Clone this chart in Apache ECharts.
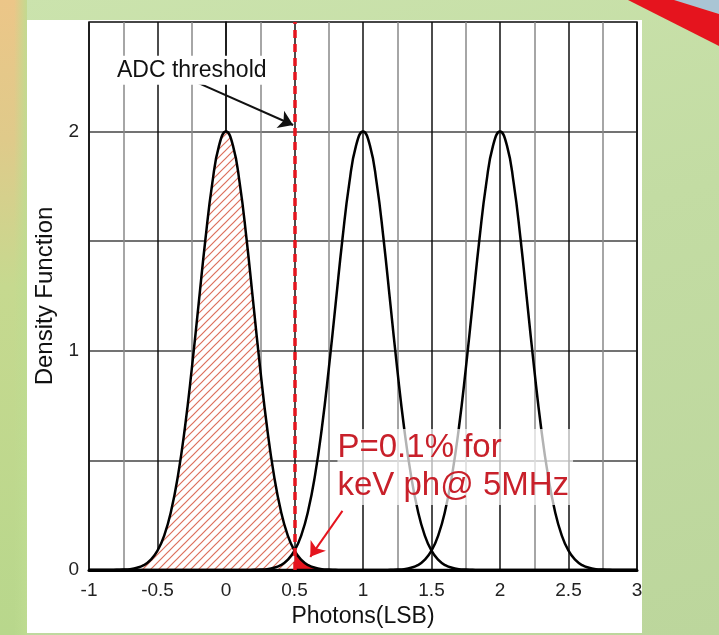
<!DOCTYPE html>
<html>
<head>
<meta charset="utf-8">
<script src="https://cdn.jsdelivr.net/npm/echarts@6/dist/echarts.min.js"></script>
<style>
html, body { margin: 0; padding: 0; width: 719px; height: 635px; overflow: hidden; }
#bg { position: absolute; left: 0; top: 0; width: 719px; height: 635px;
      background: linear-gradient(165deg, #cbe3ad 0%, #c3dca3 45%, #bcd69c 100%); }
#strip { position: absolute; left: 0; top: 0; width: 27px; height: 635px;
      background: linear-gradient(180deg, #ecc688 0%, #dfca8a 22%, #c6d98f 45%, #b8d78c 100%); }
#stripEdge { position: absolute; left: 14px; top: 0; width: 13px; height: 635px;
      background: linear-gradient(90deg, rgba(190,220,145,0) 0%, rgba(190,220,145,0.9) 100%); }
#corner { position: absolute; left: 0; top: 0; width: 719px; height: 635px; background: #a9c5d4;
      clip-path: polygon(672px 0, 719px 0, 719px 14px); }
#band { position: absolute; left: 0; top: 0; width: 719px; height: 635px; background: #e5141e;
      clip-path: polygon(628px 0, 674px 0, 719px 14px, 719px 46px); }
#card { position: absolute; left: 27px; top: 20px; width: 615px; height: 613px; background: #fff; }
#chart { position: absolute; left: 0; top: 0; width: 719px; height: 635px; }
</style>
</head>
<body>
<div id="bg"></div>
<div id="strip"></div>
<div id="stripEdge"></div>
<div id="corner"></div>
<div id="band"></div>
<div id="card"></div>
<div id="chart"></div>
<script>
// photons (LSB), read every 0.05
const photons = [
    -1, -0.95, -0.9, -0.85, -0.8, -0.75, -0.7, -0.65, -0.6, -0.55,
    -0.5, -0.45, -0.4, -0.35, -0.3, -0.25, -0.2, -0.15, -0.1, -0.05,
    0, 0.05, 0.1, 0.15, 0.2, 0.25, 0.3, 0.35, 0.4, 0.45,
    0.5, 0.55, 0.6, 0.65, 0.7, 0.75, 0.8, 0.85, 0.9, 0.95,
    1, 1.05, 1.1, 1.15, 1.2, 1.25, 1.3, 1.35, 1.4, 1.45,
    1.5, 1.55, 1.6, 1.65, 1.7, 1.75, 1.8, 1.85, 1.9, 1.95,
    2, 2.05, 2.1, 2.15, 2.2, 2.25, 2.3, 2.35, 2.4, 2.45,
    2.5, 2.55, 2.6, 2.65, 2.7, 2.75, 2.8, 2.85, 2.9, 2.95,
    3
];
// density of the 0 photon peak
const pdfZero = [
    0, 0, 0, 0, 0.001, 0.002, 0.004, 0.010, 0.022, 0.046,
    0.088, 0.159, 0.271, 0.433, 0.649, 0.916, 1.213, 1.510, 1.765, 1.938,
    2.000, 1.938, 1.765, 1.510, 1.213, 0.916, 0.649, 0.433, 0.271, 0.159,
    0.088, 0.046, 0.022, 0.010, 0.004, 0.002, 0.001, 0, 0, 0,
    0, 0, 0, 0, 0, 0, 0, 0, 0, 0,
    0, 0, 0, 0, 0, 0, 0, 0, 0, 0,
    0, 0, 0, 0, 0, 0, 0, 0, 0, 0,
    0, 0, 0, 0, 0, 0, 0, 0, 0, 0,
    0
];
// density of the 1 photon peak
const pdfOne = [
    0, 0, 0, 0, 0, 0, 0, 0, 0, 0,
    0, 0, 0, 0, 0, 0, 0, 0, 0, 0,
    0, 0, 0, 0, 0.001, 0.002, 0.004, 0.010, 0.022, 0.046,
    0.088, 0.159, 0.271, 0.433, 0.649, 0.916, 1.213, 1.510, 1.765, 1.938,
    2.000, 1.938, 1.765, 1.510, 1.213, 0.916, 0.649, 0.433, 0.271, 0.159,
    0.088, 0.046, 0.022, 0.010, 0.004, 0.002, 0.001, 0, 0, 0,
    0, 0, 0, 0, 0, 0, 0, 0, 0, 0,
    0, 0, 0, 0, 0, 0, 0, 0, 0, 0,
    0
];
// density of the 2 photon peak
const pdfTwo = [
    0, 0, 0, 0, 0, 0, 0, 0, 0, 0,
    0, 0, 0, 0, 0, 0, 0, 0, 0, 0,
    0, 0, 0, 0, 0, 0, 0, 0, 0, 0,
    0, 0, 0, 0, 0, 0, 0, 0, 0, 0,
    0, 0, 0, 0, 0.001, 0.002, 0.004, 0.010, 0.022, 0.046,
    0.088, 0.159, 0.271, 0.433, 0.649, 0.916, 1.213, 1.510, 1.765, 1.938,
    2.000, 1.938, 1.765, 1.510, 1.213, 0.916, 0.649, 0.433, 0.271, 0.159,
    0.088, 0.046, 0.022, 0.010, 0.004, 0.002, 0.001, 0, 0, 0,
    0
];
const xTickLabels = ['-1', '-0.5', '0', '0.5', '1', '1.5', '2', '2.5', '3'];
const yTickLabels = ['0', '1', '2'];
const threshold = 0.5;
const tailEnd = 0.65;
const adcArrow = [[-0.25, 2.235], [0.49, 2.03]];
const hitArrow = [[0.85, 0.27], [0.615, 0.06]];
const adcLabelAt = [-0.25, 2.28];
const hitLabelAt = [0.81, 0.47];

const font = '"Liberation Sans", Arial, sans-serif';
const red = '#e5141e';

function pairs(ys) {
    return photons.map((x, i) => [x, ys[i]]);
}

// white tile with a "/" stroke, for the area under the 0 photon peak
function hatch() {
    const s = 8;
    const c = document.createElement('canvas');
    c.width = s;
    c.height = s;
    const g = c.getContext('2d');
    g.fillStyle = '#ffffff';
    g.fillRect(0, 0, s, s);
    g.strokeStyle = '#dc6f5c';
    g.lineWidth = 1.2;
    g.beginPath();
    g.moveTo(0, s); g.lineTo(s, 0);
    g.moveTo(-1, 1); g.lineTo(1, -1);
    g.moveTo(s - 1, s + 1); g.lineTo(s + 1, s - 1);
    g.stroke();
    return c;
}

const hatchData = pairs(pdfZero).filter(p => p[0] <= threshold + 1e-9);
const tailData = pairs(pdfZero).filter(p => p[0] >= threshold - 1e-9 && p[0] <= tailEnd + 1e-9);

const curve = (name, ys) => ({
    name: name,
    type: 'line',
    data: pairs(ys),
    smooth: true,
    symbol: 'none',
    z: 3,
    lineStyle: { color: '#000', width: 2.5 }
});

const arrow = (name, from, to, color) => ({
    name: name,
    type: 'line',
    data: [],
    z: 6,
    markLine: {
        silent: true,
        symbol: ['none', 'arrow'],
        symbolSize: 14,
        label: { show: false },
        lineStyle: { color: color, width: 2, type: 'solid' },
        itemStyle: { color: color },
        data: [[{ coord: from }, { coord: to }]]
    }
});

let chart = echarts.init(document.getElementById('chart'));
let option = {
    animation: false,
    backgroundColor: 'transparent',
    grid: {
        left: 89, right: 82, top: 22, bottom: 65,
        show: true,
        borderColor: '#111',
        borderWidth: 1.5
    },
    xAxis: {
        type: 'value',
        min: -1, max: 3, interval: 0.25,
        name: 'Photons(LSB)',
        nameLocation: 'middle',
        nameGap: 26,
        nameTextStyle: { color: '#111', fontSize: 23, fontFamily: font },
        axisLine: { lineStyle: { color: '#000', width: 3 } },
        axisTick: { show: false },
        axisLabel: {
            color: '#222', fontSize: 19, fontFamily: font, margin: 11,
            formatter: v => xTickLabels.includes(String(v)) ? String(v) : ''
        },
        splitLine: { lineStyle: { color: ['#111', '#888'], width: 1.5 } }
    },
    yAxis: {
        type: 'value',
        min: 0, max: 2.5, interval: 0.5,
        name: 'Density Function',
        nameLocation: 'middle',
        nameGap: 32,
        nameTextStyle: { color: '#111', fontSize: 24, fontFamily: font },
        axisLine: { lineStyle: { color: '#111', width: 1.5 } },
        axisTick: { show: false },
        axisLabel: {
            color: '#222', fontSize: 19, fontFamily: font, margin: 10,
            formatter: v => yTickLabels.includes(String(v)) ? String(v) : ''
        },
        splitLine: { lineStyle: { color: '#444', width: 1.5 } }
    },
    series: [
        {
            name: 'notes',
            type: 'line',
            data: [],
            z: 1,
            markPoint: {
                silent: true,
                symbol: 'circle',
                symbolSize: 1,
                itemStyle: { color: 'rgba(0,0,0,0)' },
                data: [
                    {
                        coord: adcLabelAt,
                        label: {
                            show: true, position: 'inside', formatter: 'ADC threshold',
                            color: '#111', fontSize: 23, fontFamily: font,
                            backgroundColor: '#fff', padding: [3, 3, 3, 3]
                        }
                    },
                    {
                        coord: hitLabelAt,
                        label: {
                            show: true, position: 'right', distance: 0,
                            formatter: 'P=0.1% for\nkeV ph@ 5MHz',
                            color: '#c8202a', fontSize: 33, lineHeight: 38, fontFamily: font,
                            backgroundColor: 'rgba(255,255,255,0.7)', padding: [0, 4, 0, 0]
                        }
                    }
                ]
            }
        },
        {
            name: 'below threshold',
            type: 'line',
            data: hatchData,
            smooth: true,
            symbol: 'none',
            z: 2,
            lineStyle: { width: 0 },
            areaStyle: { color: { image: hatch(), repeat: 'repeat' }, opacity: 1 }
        },
        {
            name: 'false hits',
            type: 'line',
            data: tailData,
            smooth: true,
            symbol: 'none',
            z: 2,
            lineStyle: { width: 0 },
            areaStyle: { color: red, opacity: 1 }
        },
        curve('0 ph', pdfZero),
        curve('1 ph', pdfOne),
        curve('2 ph', pdfTwo),
        {
            name: 'threshold',
            type: 'line',
            data: [],
            z: 5,
            markLine: {
                silent: true,
                symbol: 'none',
                label: { show: false },
                lineStyle: { color: red, type: [8, 6], width: 3.5 },
                data: [{ xAxis: threshold }]
            }
        },
        arrow('adc arrow', adcArrow[0], adcArrow[1], '#111'),
        arrow('hit arrow', hitArrow[0], hitArrow[1], red)
    ]
};
chart.setOption(option);
</script>
</body>
</html>
